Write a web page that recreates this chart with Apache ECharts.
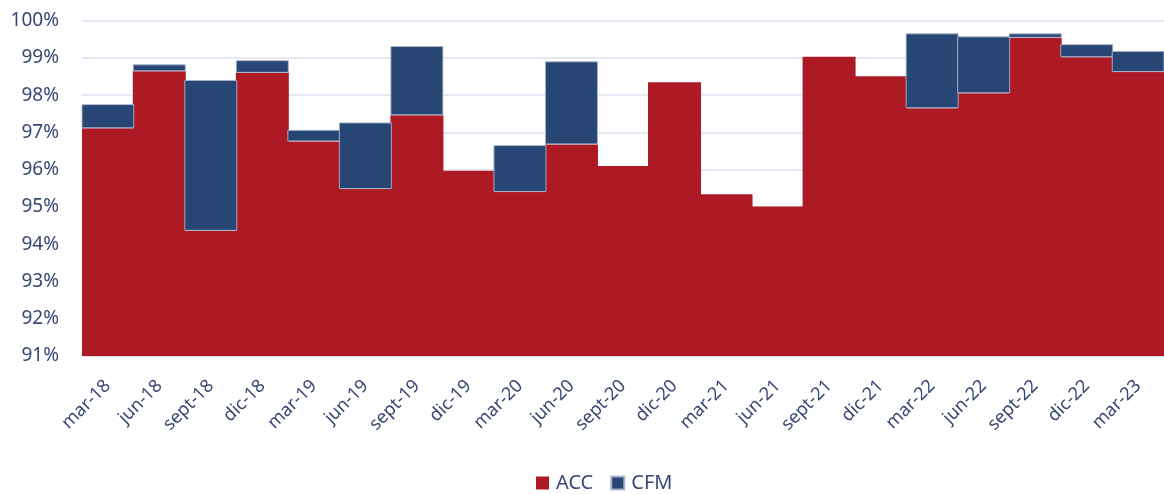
<!DOCTYPE html>
<html>
<head>
<meta charset="utf-8">
<script src="https://cdn.jsdelivr.net/npm/echarts@6/dist/echarts.min.js"></script>
<style>html,body{margin:0;padding:0;background:#fff}#c{width:1164px;height:494px}</style>
</head>
<body>
<div id="c"></div>
<script>
const categories = ['mar-18','jun-18','sept-18','dic-18','mar-19','jun-19','sept-19','dic-19','mar-20','jun-20','sept-20','dic-20','mar-21','jun-21','sept-21','dic-21','mar-22','jun-22','sept-22','dic-22','mar-23'];
const accValues = [97.11,98.64,94.36,98.60,96.76,95.48,97.46,95.97,95.40,96.68,96.10,98.35,95.34,95.01,99.03,98.51,97.65,98.05,99.54,99.02,98.62];
const cfmValues = [0.65,0.19,4.05,0.34,0.31,1.79,1.86,0,1.26,2.23,0,0,0,0,0,0,2.01,1.53,0.12,0.35,0.57];
const yTicks = [91,92,93,94,95,96,97,98,99,100];

const txt = '#3a4674';
const font = 'Noto Sans';
const chart = echarts.init(document.getElementById('c'), null, {renderer:'canvas'});
chart.setOption({
  animation:false,
  textStyle:{fontFamily:font},
  grid:{left:82,right:0,top:20.7,bottom:138,containLabel:false},
  legend:{
    top:468,left:531,itemWidth:13,itemHeight:13,itemGap:17,icon:'rect',
    textStyle:{color:txt,fontSize:20,fontFamily:font,padding:[0,0,0,2]},
    data:['ACC','CFM']
  },
  xAxis:{
    type:'category',data:categories,
    axisTick:{show:false},
    splitLine:{show:false},
    axisLine:{lineStyle:{color:'#d4d8e6',width:1.5}},
    axisLabel:{rotate:45,color:txt,fontSize:18,fontFamily:font,margin:27,interval:0}
  },
  yAxis:{
    type:'value',min:yTicks[0],max:yTicks[yTicks.length-1],interval:1,
    axisLine:{show:false},axisTick:{show:false},
    splitLine:{lineStyle:{color:'#dde0ef',width:1.5}},
    axisLabel:{formatter:'{value}%',color:txt,fontSize:19,fontFamily:font,margin:23}
  },
  series:[
    {name:'ACC',type:'bar',stack:'s',data:accValues,barWidth:53,barGap:'0%',z:2,
     itemStyle:{color:'#ad1a24',borderWidth:0}},
    {name:'CFM',type:'bar',stack:'s',data:cfmValues.map(v => v === 0 ? '-' : v),barWidth:53,z:3,
     itemStyle:{color:'#284673',borderColor:'rgba(170,180,205,0.9)',borderWidth:1}}
  ]
});
</script>
</body>
</html>
